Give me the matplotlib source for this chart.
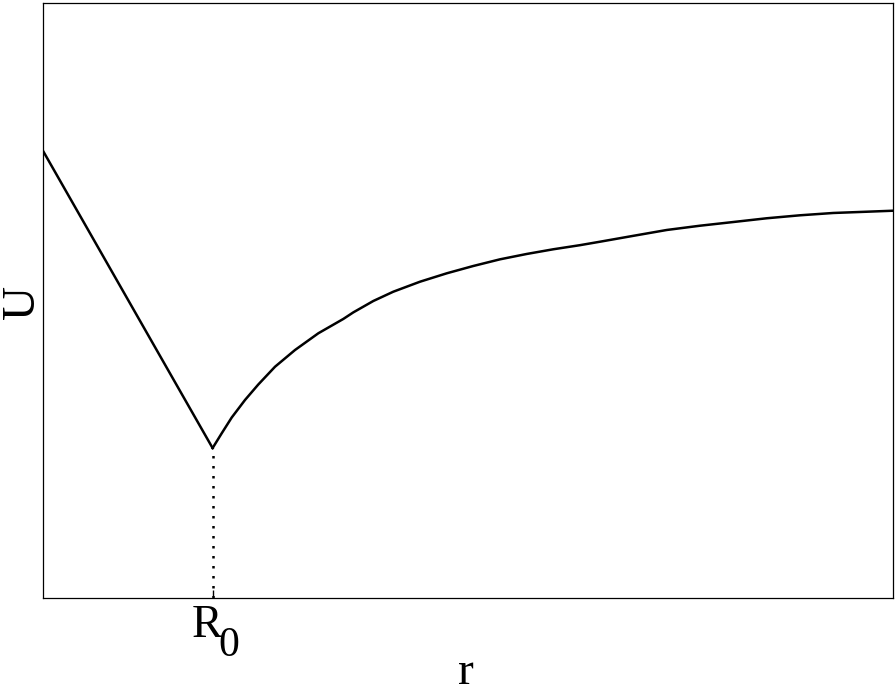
import matplotlib
matplotlib.use('Agg')
import matplotlib.pyplot as plt

# Potencial U(r) (unidades arbitrárias, eixos de 0 a 10)
R0 = 2.0
r_esq = [0.0, 2.0]
u_esq = [7.53, 2.52]

r_dir = [2.00, 2.107, 2.225, 2.381, 2.537, 2.734, 2.969, 3.243, 3.537,
         3.654, 3.890, 4.125, 4.439, 4.753, 5.065, 5.379, 5.693, 6.006,
         6.320, 6.555, 6.947, 7.339, 7.731, 8.122, 8.515, 8.906, 9.298,
         9.691, 10.0]
u_dir = [2.52, 2.768, 3.034, 3.328, 3.588, 3.887, 4.168, 4.449, 4.690,
         4.800, 4.992, 5.148, 5.316, 5.457, 5.580, 5.692, 5.782, 5.861,
         5.930, 5.988, 6.087, 6.185, 6.257, 6.319, 6.382, 6.432, 6.471,
         6.492, 6.509]

plt.rcParams['font.family'] = 'serif'
plt.rcParams['font.serif'] = ['Liberation Serif', 'DejaVu Serif']

fig = plt.figure(figsize=(8.96, 6.91), dpi=100)
ax = fig.add_axes([42.5 / 896, 93 / 691, 850.5 / 896, 595 / 691])

ax.plot(r_esq, u_esq, color='black', lw=1.8, solid_joinstyle='miter')
ax.plot(r_dir, u_dir, color='black', lw=1.8)
ax.plot([R0, R0], [0, u_esq[-1]], color='black', lw=1.8, ls=(0, (1, 3)))

ax.set_xlim(0, 10)
ax.set_ylim(0, 10)
ax.set_xticks([R0])
ax.set_xticklabels([''])
ax.set_yticks([])
ax.tick_params(axis='x', direction='in', length=6, width=1)
for sp in ax.spines.values():
    sp.set_linewidth(0.9)

# rótulo R_0 (subscrito grande, como no original)
ax.annotate('R', xy=(R0, 0), xycoords=('data', 'axes fraction'),
            xytext=(-21, -39), textcoords='offset pixels',
            ha='left', va='baseline', fontsize=33)
ax.annotate('0', xy=(R0, 0), xycoords=('data', 'axes fraction'),
            xytext=(6, -58), textcoords='offset pixels',
            ha='left', va='baseline', fontsize=30)

ax.set_xlabel('r', fontsize=34)
ax.xaxis.label.set_va('baseline')
ax.xaxis.set_label_coords(0.498, -0.1445)
ax.set_ylabel('U', fontsize=34)
ax.yaxis.label.set_va('baseline')
ax.yaxis.set_label_coords(-0.010, 0.497)

fig.savefig('out.png', dpi=100)
